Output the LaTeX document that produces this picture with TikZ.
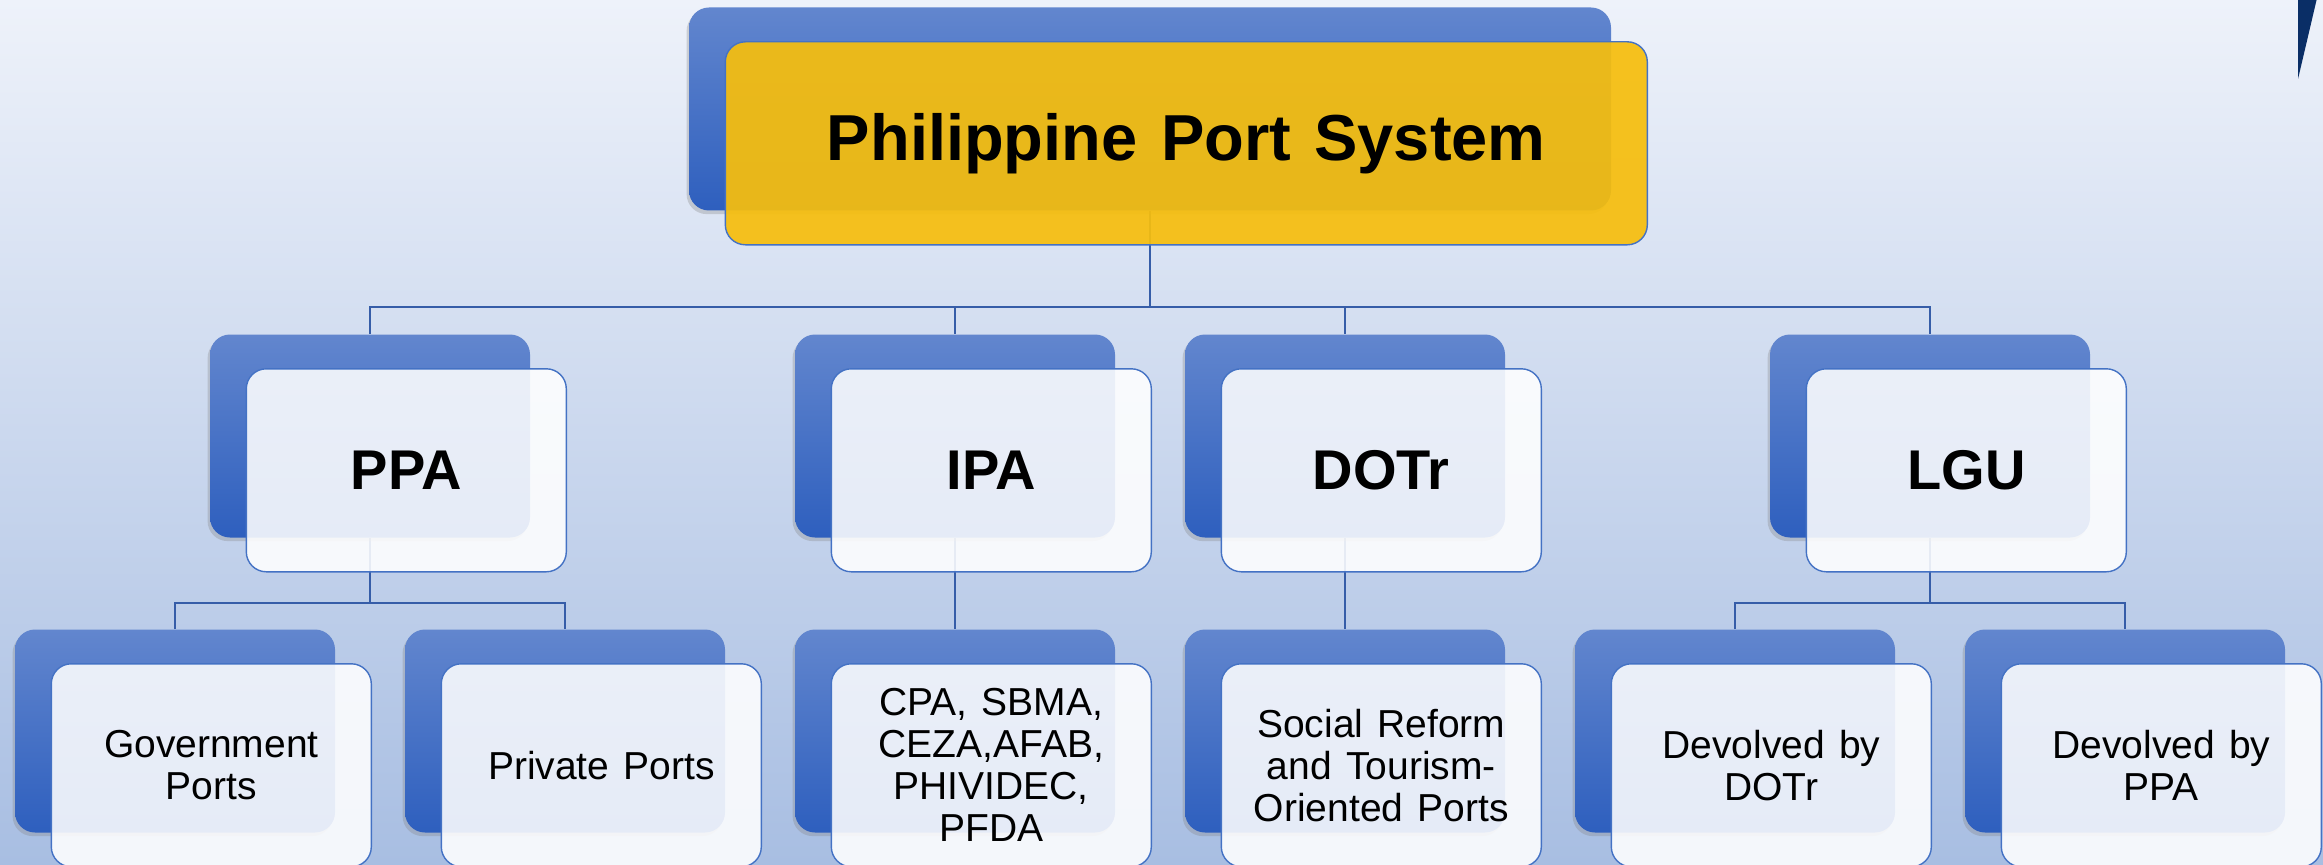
\documentclass[tikz,border=0pt]{standalone}
\usepackage{fontspec}
\setmainfont{Liberation Sans}[WordSpace=1.3]
\usepackage{tikz}
\usetikzlibrary{positioning,shadows}
\definecolor{cNavy}{HTML}{0A2E66}
\definecolor{cLink}{HTML}{365DA8}
\definecolor{cEdge}{HTML}{4472C4}
\definecolor{cBackTop}{HTML}{6286CE}
\definecolor{cBackBot}{HTML}{2E5FBE}
\definecolor{cGold}{HTML}{F6BE0E}
\definecolor{cPageTop}{HTML}{EEF2FA}
\definecolor{cPageBot}{HTML}{A8BEE2}
\pgfdeclarelayer{background}
\pgfsetlayers{background,main}

\begin{document}
\begin{tikzpicture}[
  x=0.5pt, y=0.5pt,
  backbox/.style={shade, top color=cBackTop, bottom color=cBackBot, rounded corners=10pt,
    minimum width=160pt, minimum height=101.5pt,
    drop shadow={shadow xshift=-1.2pt, shadow yshift=-1.8pt, opacity=0.3}},
  leafcard/.style={fill=white, fill opacity=0.88, text opacity=1, draw=cEdge, line width=0.7pt,
    rounded corners=10pt, minimum width=160pt, minimum height=101.5pt, align=center,
    font=\fontsize{19.5}{21}\selectfont},
  headcard/.style={leafcard, font=\fontsize{28}{32}\selectfont\bfseries},
  titlecard/.style={leafcard, fill=cGold, fill opacity=0.93, minimum width=461pt,
    font=\fontsize{32.5}{38}\selectfont\bfseries},
  link/.style={draw=cLink, line width=1.2pt}]

  % page
  \begin{pgfonlayer}{background}
    \shade[top color=cPageTop, bottom color=cPageBot] (0,0) rectangle (2323,864);
  \end{pgfonlayer}
  \useasboundingbox (0,0) rectangle (2323,864);
  \fill[cNavy] (2298,866) -- (2317,866) -- (2298,785) -- cycle;

  % top
  \node[backbox, minimum width=461pt] (sysbk) at (1150,755) {};
  \node[titlecard, below right=17pt and 18pt of sysbk.north west] (sys) {Philippine Port System};

  % agencies
  \node[backbox] (ppabk) at (370,428) {};
  \node[headcard, below right=17pt and 18pt of ppabk.north west] (ppa) {PPA};
  \node[backbox] (ipabk) at (955,428) {};
  \node[headcard, below right=17pt and 18pt of ipabk.north west] (ipa) {IPA};
  \node[backbox] (dotrbk) at (1345,428) {};
  \node[headcard, below right=17pt and 18pt of dotrbk.north west] (dotr) {DOTr};
  \node[backbox] (lgubk) at (1930,428) {};
  \node[headcard, below right=17pt and 18pt of lgubk.north west] (lgu) {LGU};

  % ports
  \node[backbox] (govbk) at (175,133) {};
  \node[leafcard, below right=17pt and 18pt of govbk.north west] (gov) {Government\\Ports};
  \node[backbox] (privbk) at (565,133) {};
  \node[leafcard, below right=17pt and 18pt of privbk.north west] (priv) {Private Ports};
  \node[backbox] (zonebk) at (955,133) {};
  \node[leafcard, below right=17pt and 18pt of zonebk.north west] (zone) {CPA, SBMA,\\CEZA,AFAB,\\PHIVIDEC,\\PFDA};
  \node[backbox] (tourbk) at (1345,133) {};
  \node[leafcard, below right=17pt and 18pt of tourbk.north west] (tour) {Social Reform\\and Tourism-\\Oriented Ports};
  \node[backbox] (ddotrbk) at (1735,133) {};
  \node[leafcard, below right=17pt and 18pt of ddotrbk.north west] (ddotr) {Devolved by\\DOTr};
  \node[backbox] (dppabk) at (2125,133) {};
  \node[leafcard, below right=17pt and 18pt of dppabk.north west] (dppa) {Devolved by\\PPA};

  % tree lines, kept under the boxes
  \begin{pgfonlayer}{background}
    \draw[link] (sysbk.south) -- ++(0,-96) coordinate (bus);
    \draw[link] (ppabk.north) |- (bus) -| (lgubk.north);
    \draw[link] (ipabk.north) -- (ipabk.north |- bus);
    \draw[link] (dotrbk.north) -- (dotrbk.north |- bus);
    \draw[link] (ppabk.south) -- ++(0,-65) coordinate (ppabus);
    \draw[link] (govbk.north) |- (ppabus) -| (privbk.north);
    \draw[link] (ipabk.south) -- (zonebk.north);
    \draw[link] (dotrbk.south) -- (tourbk.north);
    \draw[link] (lgubk.south) -- ++(0,-65) coordinate (lgubus);
    \draw[link] (ddotrbk.north) |- (lgubus) -| (dppabk.north);
  \end{pgfonlayer}
\end{tikzpicture}
\end{document}
